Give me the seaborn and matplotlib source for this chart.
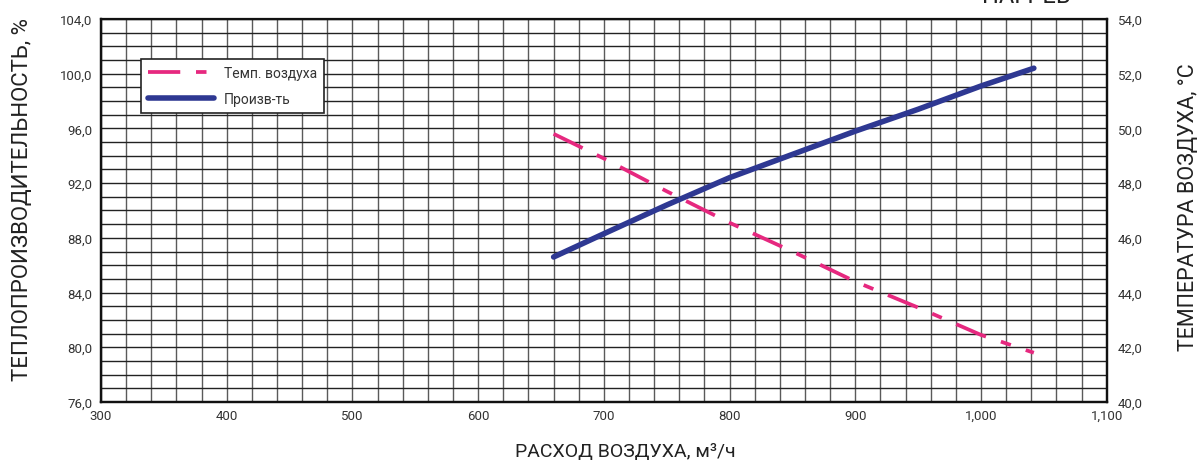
import matplotlib

matplotlib.use("Agg")
import matplotlib.pyplot as plt
import pandas as pd
import seaborn as sns
from matplotlib.lines import Line2D
from matplotlib.ticker import FuncFormatter, MultipleLocator

# ── Data ────────────────────────────────────────────────────────────────────
airflow = [660, 700, 750, 800, 850, 900, 950, 1000, 1042]
power_pct = [86.6, 88.3, 90.4, 92.4, 94.1, 95.8, 97.4, 99.1, 100.4]
air_temp = [49.8, 48.9, 47.7, 46.55, 45.5, 44.4, 43.45, 42.45, 41.8]

x_ticks = [300, 400, 500, 600, 700, 800, 900, 1000, 1100]
left_ticks = [76, 80, 84, 88, 92, 96, 100, 104]
right_ticks = [40, 42, 44, 46, 48, 50, 52, 54]

legend_labels = ["Темп. воздуха", "Произв-ть"]

PINK = "#E6287F"
NAVY = "#2E3892"
TEXT = "#333333"
TEMP_DASHES = (8.6, 4.2, 2.8, 4.2)

sns.set_theme(style="white")
plt.rcParams["font.family"] = ["Roboto", "DejaVu Sans"]

df = pd.DataFrame({"airflow": airflow, "power": power_pct, "temp": air_temp})

fig = plt.figure(figsize=(12.03, 4.64), dpi=100)
ax = fig.add_axes([0.084, 0.1315, 0.836, 0.8255])
ax2 = ax.twinx()

sns.lineplot(data=df, x="airflow", y="power", ax=ax, color=NAVY, linewidth=4.0)
sns.lineplot(data=df, x="airflow", y="temp", ax=ax2, color=PINK, linewidth=2.7)
ax2.lines[0].set_dashes(TEMP_DASHES)

# ── Axes ranges / ticks ─────────────────────────────────────────────────────
ax.set_xlim(300, 1100)
ax.set_ylim(76, 104)
ax2.set_ylim(40, 54)

ax.set_xticks(x_ticks)
ax.set_yticks(left_ticks)
ax2.set_yticks(right_ticks)
ax.xaxis.set_minor_locator(MultipleLocator(20))
ax.yaxis.set_minor_locator(MultipleLocator(1))

ax.xaxis.set_major_formatter(FuncFormatter(lambda v, _: f"{int(v):,}"))
ax.yaxis.set_major_formatter(FuncFormatter(lambda v, _: f"{v:.1f}".replace(".", ",")))
ax2.yaxis.set_major_formatter(FuncFormatter(lambda v, _: f"{v:.1f}".replace(".", ",")))

ax.tick_params(axis="both", which="both", length=0, labelsize=9.5, labelcolor=TEXT)
ax.tick_params(axis="y", pad=6)
ax.tick_params(axis="x", pad=5)
ax2.tick_params(axis="y", length=0, labelsize=9.5, labelcolor=TEXT, pad=8)

# grid
ax.set_axisbelow(True)
ax.grid(which="both", axis="x", color="#5a5a5a", linewidth=1.0)
ax.grid(which="both", axis="y", color="#222222", linewidth=1.0)

for a in (ax, ax2):
    for side in ("left", "bottom", "right", "top"):
        a.spines[side].set_color("#111111")
        a.spines[side].set_linewidth(1.6)
ax2.spines["top"].set_linewidth(0.8)

# labels
ax.set_xlabel("РАСХОД ВОЗДУХА, м³/ч", fontsize=14, color="#222222")
ax.xaxis.set_label_coords(0.521, -0.104)
ax.set_ylabel("ТЕПЛОПРОИЗВОДИТЕЛЬНОСТЬ, %", fontsize=16, color="#222222")
ax.yaxis.set_label_coords(-0.0676, 0.53)
ax2.set_ylabel("ТЕМПЕРАТУРА ВОЗДУХА, °С", fontsize=15.5, color="#222222")
ax2.yaxis.set_label_coords(1.0706, 0.512)

# clipped title at the very top
fig.text(1026 / 1203, 1 - 3 / 464, "НАГРЕВ", fontsize=17, color="#222222",
         ha="center", va="baseline")

# legend
handles = [
    Line2D([], [], color=PINK, linewidth=2.7, dashes=TEMP_DASHES),
    Line2D([], [], color=NAVY, linewidth=4.0),
]
leg = ax2.legend(handles, legend_labels, loc="upper left",
                 bbox_to_anchor=(0.0398, 0.8956), borderaxespad=0,
                 fontsize=10, frameon=True, fancybox=False,
                 edgecolor="#222222", framealpha=1, handlelength=4.75,
                 handletextpad=0.7, borderpad=0.5, labelspacing=0.87)
leg.get_frame().set_linewidth(1.2)
for t in leg.get_texts():
    t.set_color(TEXT)

fig.savefig("out.png", dpi=100)
